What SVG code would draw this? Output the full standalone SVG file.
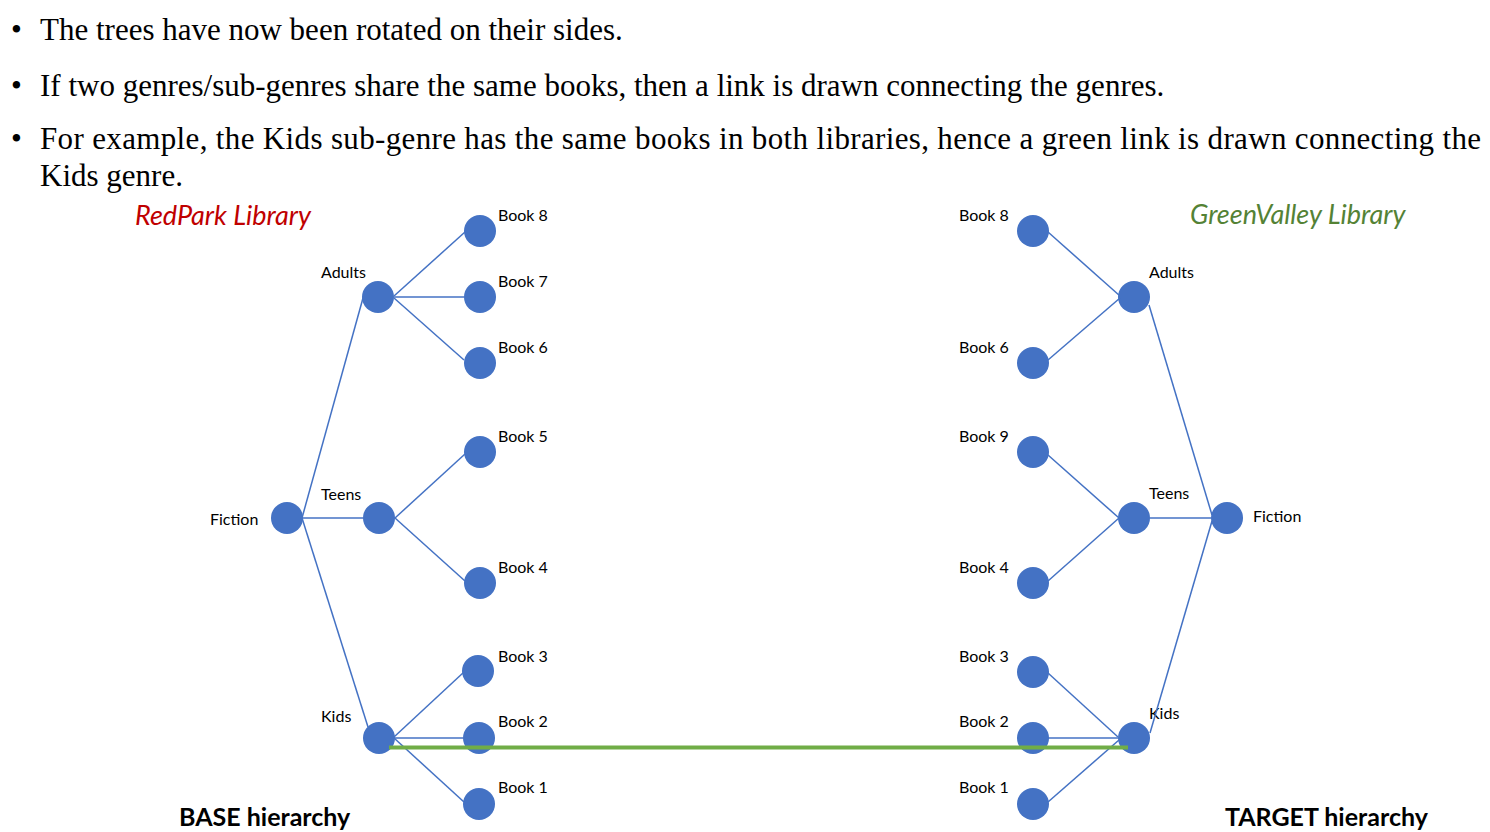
<svg xmlns="http://www.w3.org/2000/svg" width="1490" height="832" viewBox="0 0 1490 832">
<style>
.bul{font-family:"Liberation Serif","Times New Roman",serif;font-size:31px;fill:#000}
.lbl{font-family:Lato,"Open Sans",sans-serif;font-size:16px;fill:#000}
.title{font-family:Lato,"Open Sans",sans-serif;font-size:27px;font-style:italic}
.hier{font-family:Lato,"Open Sans",sans-serif;font-size:25px;font-weight:bold;fill:#000}
.node{fill:#4472C4}
.edge{stroke:#4472C4;stroke-width:1.5;fill:none}
.match{stroke:#70AD47;stroke-width:4;fill:none}
</style>
<rect width="1490" height="832" fill="#fff"/>
<g id="text">
<text class="bul" x="11" y="40">•</text>
<text class="bul" x="40" y="40">The trees have now been rotated on their sides.</text>
<text class="bul" x="11" y="96">•</text>
<text class="bul" x="40" y="96">If two genres/sub-genres share the same books, then a link is drawn connecting the genres.</text>
<text class="bul" x="11" y="149">•</text>
<text class="bul" x="40" y="149" textLength="1441" lengthAdjust="spacing">For example, the Kids sub-genre has the same books in both libraries, hence a green link is drawn connecting the</text>
<text class="bul" x="40" y="186">Kids genre.</text>
<text class="title" x="135" y="225" fill="#C00000">RedPark Library</text>
<text class="title" x="1190" y="224" fill="#548235">GreenValley Library</text>
<text class="hier" x="179" y="826">BASE hierarchy</text>
<text class="hier" x="1225" y="826">TARGET hierarchy</text>
</g>
<g id="base-fiction"><circle class="node" cx="287" cy="518" r="16"/><text class="lbl" x="210" y="525">Fiction</text></g>
<g id="base-adults"><circle class="node" cx="378" cy="297" r="16"/><text class="lbl" x="321" y="278">Adults</text></g>
<g id="base-teens"><circle class="node" cx="379" cy="518" r="16"/><text class="lbl" x="321" y="500">Teens</text></g>
<g id="base-kids"><circle class="node" cx="379" cy="738" r="16"/><text class="lbl" x="321" y="722">Kids</text></g>
<g id="base-book8"><circle class="node" cx="480" cy="231" r="16"/><text class="lbl" x="498" y="221">Book 8</text></g>
<g id="base-book7"><circle class="node" cx="480" cy="297" r="16"/><text class="lbl" x="498" y="287">Book 7</text></g>
<g id="base-book6"><circle class="node" cx="480" cy="363" r="16"/><text class="lbl" x="498" y="353">Book 6</text></g>
<g id="base-book5"><circle class="node" cx="480" cy="452" r="16"/><text class="lbl" x="498" y="442">Book 5</text></g>
<g id="base-book4"><circle class="node" cx="480" cy="583" r="16"/><text class="lbl" x="498" y="573">Book 4</text></g>
<g id="base-book3"><circle class="node" cx="478" cy="671" r="16"/><text class="lbl" x="498" y="662">Book 3</text></g>
<g id="base-book2"><circle class="node" cx="479" cy="738" r="16"/><text class="lbl" x="498" y="727">Book 2</text></g>
<g id="base-book1"><circle class="node" cx="479" cy="804" r="16"/><text class="lbl" x="498" y="793">Book 1</text></g>
<g id="target-fiction"><circle class="node" cx="1227" cy="518" r="16"/><text class="lbl" x="1253" y="522">Fiction</text></g>
<g id="target-adults"><circle class="node" cx="1134" cy="297" r="16"/><text class="lbl" x="1149" y="278">Adults</text></g>
<g id="target-teens"><circle class="node" cx="1134" cy="518" r="16"/><text class="lbl" x="1149" y="499">Teens</text></g>
<g id="target-kids"><circle class="node" cx="1134" cy="738" r="16"/><text class="lbl" x="1149" y="719">Kids</text></g>
<g id="target-book8"><circle class="node" cx="1033" cy="231" r="16"/><text class="lbl" x="959" y="221">Book 8</text></g>
<g id="target-book6"><circle class="node" cx="1033" cy="363" r="16"/><text class="lbl" x="959" y="353">Book 6</text></g>
<g id="target-book9"><circle class="node" cx="1033" cy="452" r="16"/><text class="lbl" x="959" y="442">Book 9</text></g>
<g id="target-book4"><circle class="node" cx="1033" cy="583" r="16"/><text class="lbl" x="959" y="573">Book 4</text></g>
<g id="target-book3"><circle class="node" cx="1033" cy="672" r="16"/><text class="lbl" x="959" y="662">Book 3</text></g>
<g id="target-book2"><circle class="node" cx="1033" cy="738" r="16"/><text class="lbl" x="959" y="727">Book 2</text></g>
<g id="target-book1"><circle class="node" cx="1033" cy="804" r="16"/><text class="lbl" x="959" y="793">Book 1</text></g>
<g id="connectors">
<line class="edge" x1="302" y1="518" x2="363" y2="298"/>
<line class="edge" x1="302" y1="518" x2="363" y2="518"/>
<line class="edge" x1="302" y1="518" x2="368" y2="727"/>
<line class="edge" x1="394" y1="296" x2="465" y2="232"/>
<line class="edge" x1="394" y1="297" x2="464" y2="297"/>
<line class="edge" x1="394" y1="298" x2="464" y2="360"/>
<line class="edge" x1="395" y1="518" x2="465" y2="454"/>
<line class="edge" x1="395" y1="518" x2="465" y2="581"/>
<line class="edge" x1="394" y1="737" x2="464" y2="672"/>
<line class="edge" x1="394" y1="738" x2="463" y2="738"/>
<line class="edge" x1="394" y1="738" x2="464" y2="802"/>
<line class="edge" x1="1048" y1="232" x2="1120" y2="296"/>
<line class="edge" x1="1048" y1="360" x2="1120" y2="298"/>
<line class="edge" x1="1149" y1="305" x2="1212" y2="515"/>
<line class="edge" x1="1150" y1="518" x2="1211" y2="518"/>
<line class="edge" x1="1212" y1="521" x2="1150" y2="733"/>
<line class="edge" x1="1048" y1="455" x2="1119" y2="518"/>
<line class="edge" x1="1048" y1="581" x2="1119" y2="518"/>
<line class="edge" x1="1048" y1="673" x2="1118" y2="737"/>
<line class="edge" x1="1048" y1="738" x2="1118" y2="738"/>
<line class="edge" x1="1048" y1="802" x2="1119" y2="740"/>
<line class="match" x1="389" y1="747.5" x2="1128" y2="747.5"/>
</g>
</svg>
